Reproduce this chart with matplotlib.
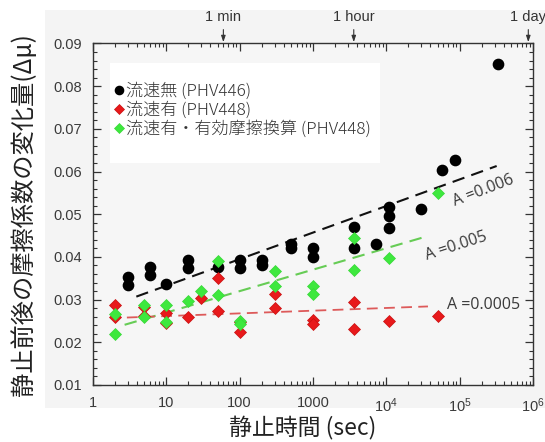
import matplotlib
matplotlib.use("Agg")
import matplotlib.pyplot as plt
from matplotlib.patches import Rectangle
from matplotlib.ticker import FixedLocator, FixedFormatter, MultipleLocator, LogLocator, NullFormatter

# ---------------- data ----------------
t_black = [3, 3, 6, 6, 10, 20, 20, 50, 100, 100, 200, 200, 500, 500, 1000, 1000,
           3600, 3600, 7200, 10800, 10800, 10800, 30000, 57600, 86400, 330000]
mu_black = [0.0354, 0.0334, 0.0376, 0.0358, 0.0336, 0.0392, 0.0374, 0.0376, 0.0392, 0.0374,
            0.0392, 0.0382, 0.0431, 0.0421, 0.0421, 0.0400, 0.0470, 0.0421, 0.0430,
            0.0516, 0.0495, 0.0467, 0.0512, 0.0603, 0.0626, 0.0852]

t_red = [2, 2, 5, 5, 10, 10, 20, 30, 50, 50, 100, 100, 300, 300, 1000, 1000, 3600, 3600, 10800, 50000]
mu_red = [0.0288, 0.0260, 0.0283, 0.0262, 0.0268, 0.0245, 0.0259, 0.0303, 0.0350, 0.0273,
          0.0224, 0.0247, 0.0313, 0.0280, 0.0253, 0.0242, 0.0295, 0.0230, 0.0249, 0.0262]

t_green = [2, 2, 5, 5, 10, 10, 20, 30, 50, 50, 100, 100, 300, 300, 1000, 1000, 3600, 3600, 10800, 50000]
mu_green = [0.0267, 0.0219, 0.0287, 0.0259, 0.0287, 0.0247, 0.0296, 0.0320, 0.0390, 0.0310,
            0.0250, 0.0243, 0.0368, 0.0331, 0.0331, 0.0313, 0.0444, 0.0369, 0.0397, 0.0550]

fit_black_t = [3.9, 3.2e5]
fit_black_mu = [0.0307, 0.0613]
fit_green_t = [2.7, 3.7e4]
fit_green_mu = [0.0241, 0.0449]
fit_red_t = [2.9, 3.7e4]
fit_red_mu = [0.0258, 0.0284]

labels = ["流速無 (PHV446)", "流速有 (PHV448)", "流速有・有効摩擦換算 (PHV448)"]
fit_labels = ["A =0.006", "A =0.005", "A =0.0005"]

x_ticks = [1, 10, 100, 1000, 1e4, 1e5, 1e6]
x_ticklabels = ["1", "10", "100", "1000", r"$\mathregular{10^4}$", r"$\mathregular{10^5}$", r"$\mathregular{10^6}$"]
y_ticks = [0.01, 0.02, 0.03, 0.04, 0.05, 0.06, 0.07, 0.08, 0.09]
y_ticklabels = ["0.01", "0.02", "0.03", "0.04", "0.05", "0.06", "0.07", "0.08", "0.09"]

top_marks = [60, 3600, 864000]
top_labels = ["1 min", "1 hour", "1 day"]

# ---------------- figure ----------------
cjk = ["Noto Sans CJK JP", "DejaVu Sans"]
plt.rcParams["font.family"] = ["Liberation Sans", "DejaVu Sans"]

fig = plt.figure(figsize=(5.45, 4.42), dpi=100, facecolor="white")
bg = Rectangle((0.083, 0.077), 0.917, 0.90, transform=fig.transFigure,
               facecolor="#f4f4f4", edgecolor="none", zorder=-10)
fig.add_artist(bg)

ax = fig.add_axes([0.1706, 0.129, 0.8073, 0.7726])
ax.set_zorder(1)
ax.set_facecolor("#f6f6f6")
ax.set_xscale("log")
ax.set_xlim(1, 1e6)
ax.set_ylim(0.01, 0.09)

# legend background box
ax.add_patch(Rectangle((0.039, 0.651), 0.613, 0.293, transform=ax.transAxes,
                       facecolor="white", edgecolor="none", zorder=1))

ax.plot(fit_black_t, fit_black_mu, color="#111111", lw=1.5, dashes=(6, 3.5), zorder=2)
ax.plot(fit_green_t, fit_green_mu, color="#66cc55", lw=1.5, dashes=(6, 3.5), zorder=2)
ax.plot(fit_red_t, fit_red_mu, color="#dd5a5a", lw=1.3, dashes=(6, 3.5), zorder=2)

ax.plot(t_black, mu_black, "o", color="black", ms=7.4, mec="black", zorder=3, label=labels[0])
ax.plot(t_red, mu_red, "D", color="#e8191b", ms=6.3, mec="#c81010", mew=0.5, zorder=4, label=labels[1])
ax.plot(t_green, mu_green, "D", color="#3ee83e", ms=6.3, mec="#38d838", mew=0.5, zorder=5, label=labels[2])

txtc = "#3a3a3a"
ax.text(10**5.318, 0.0555, fit_labels[0], rotation=21, ha="center", va="center",
        fontsize=11.5, color=txtc, family=["Open Sans", "DejaVu Sans"])
ax.text(10**4.95, 0.0426, fit_labels[1], rotation=18, ha="center", va="center",
        fontsize=11.5, color=txtc, family=["Open Sans", "DejaVu Sans"])
ax.text(10**5.33, 0.0288, fit_labels[2], rotation=0, ha="center", va="center",
        fontsize=11.5, color=txtc, family=["Open Sans", "DejaVu Sans"])

leg = ax.legend(loc="upper left", bbox_to_anchor=(0.035, 0.905), frameon=False,
                handlelength=0.45, handletextpad=0.2, labelspacing=0.08, borderaxespad=0,
                markerscale=0.8,
                prop={"family": cjk, "size": 12.3, "weight": "light"})
for t in leg.get_texts():
    t.set_color("#333333")

# ticks
ax.xaxis.set_major_locator(FixedLocator(x_ticks))
ax.xaxis.set_major_formatter(FixedFormatter(x_ticklabels))
ax.xaxis.set_minor_locator(LogLocator(base=10, subs=range(2, 10), numticks=20))
ax.xaxis.set_minor_formatter(NullFormatter())
ax.yaxis.set_major_locator(FixedLocator(y_ticks))
ax.yaxis.set_major_formatter(FixedFormatter(y_ticklabels))
ax.yaxis.set_minor_locator(MultipleLocator(0.002))

ax.tick_params(which="both", direction="in", top=True, right=True, colors="#333333")
ax.tick_params(which="major", length=6, width=0.9)
ax.tick_params(which="minor", length=3, width=0.8)
ax.tick_params(axis="x", which="major", pad=8, labelsize=10.5, labelcolor="#3a3a3a")
ax.tick_params(axis="y", which="major", pad=8, labelsize=10.5, labelcolor="#3a3a3a")
for s in ax.spines.values():
    s.set_color("#333333")
    s.set_linewidth(1.0)

# top arrows
for tm, tl in zip(top_marks, top_labels):
    ax.annotate(tl, xy=(tm, 1.0), xycoords=("data", "axes fraction"),
                xytext=(0, 14), textcoords="offset points", ha="center", va="bottom",
                fontsize=10.5, color="#333333", annotation_clip=False,
                arrowprops=dict(arrowstyle="-|>,head_length=0.35,head_width=0.12",
                                color="#333333", lw=0.8, shrinkA=2, shrinkB=1))

ax.set_xlabel("静止時間 (sec)", family=cjk, fontsize=16.5, color="#222222")
ax.set_ylabel("静止前後の摩擦係数の変化量(Δμ)", family=cjk, fontsize=17.5, color="#222222")
ax.xaxis.set_label_coords(0.477, -0.092)
ax.yaxis.set_label_coords(-0.128, 0.5)

fig.savefig("out.png", dpi=100, facecolor="white")
